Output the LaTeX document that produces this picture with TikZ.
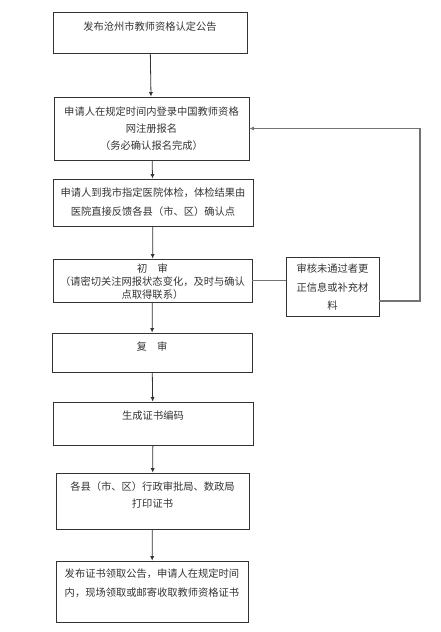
\documentclass[tikz,border=0pt]{standalone}
\usepackage{fontspec}
\setmainfont{Noto Sans CJK SC}
\usetikzlibrary{arrows.meta}
\usetikzlibrary{calc, positioning}

\tikzset{
  box/.style={draw=black!80, line width=0.6pt, rectangle, inner sep=0pt},
  txt/.style={text=black!80, font=\fontsize{7.7}{12.75}\selectfont, align=center, inner sep=0pt},
  arr/.style={black!80, line width=0.6pt, arrows={-Latex[length=1.2mm, width=1.1mm]}},
  link/.style={black!55, line width=0.8pt}
}

\begin{document}
\begin{tikzpicture}[x=0.75pt, y=-0.75pt]
          \useasboundingbox (0,0) rectangle (440,632);

          % boxes of the main column
          \node [box, minimum width=145.5pt, minimum height=30.75pt] (b1) at (150,32.5) {};
          \node [box, minimum width=146.25pt, minimum height=47.25pt] (b2) at (151.5,128.5) {};
          \node [box, minimum width=150pt, minimum height=35.25pt] (b3) at (153,202.5) {};
          \node [box, minimum width=149.25pt, minimum height=32.25pt] (b4) at (152.5,280.5) {};
          \node [box, minimum width=150pt, minimum height=29.25pt] (b6) at (152,352.5) {};
          \node [box, minimum width=150pt, minimum height=32.25pt] (b7) at (153,423.5) {};
          \node [box, minimum width=144.75pt, minimum height=42pt] (b8) at (152.5,501) {};
          \node [box, minimum width=144pt, minimum height=45.75pt] (b9) at (152,591.5) {};

          % side box
          \node [box, minimum width=69.75pt, minimum height=44.25pt] (b5) at (332.5,286.5) {};

          % texts
          \node [txt] (t1) at ($(b1.center)+(0,-5.5)$) {发布沧州市教师资格认定公告};
          \node [txt] (t2) at (b2.center) {申请人在规定时间内登录中国教师资格\\网注册报名\\（务必确认报名完成）};
          \node [txt, font=\fontsize{7.7}{14.25}\selectfont] (t3) at (b3.center) {申请人到我市指定医院体检，体检结果由\\医院直接反馈各县（市、区）确认点};
          \node [txt, font=\fontsize{7.7}{9.75}\selectfont] (t4) at ($(b4.center)+(0,1.5)$) {初\quad 审\\（请密切关注网报状态变化，及时与确认\\点取得联系）};
          \node [txt, font=\fontsize{7.7}{13.9}\selectfont] (t5) at ($(b5.center)+(0,1)$) {审核未通过者更\\正信息或补充材\\料};
          \node [txt] (t6) at ($(b6.center)+(0,-5.5)$) {复\quad 审};
          \node [txt] (t7) at ($(b7.center)+(0,-7.5)$) {生成证书编码};
          \node [txt] (t8) at ($(b8.center)+(0,-5.5)$) {各县（市、区）行政审批局、数政局\\打印证书};
          \node [txt, font=\fontsize{7.7}{14.25}\selectfont] (t9) at ($(b9.center)+(0,-8)$) {发布证书领取公告，申请人在规定时间\\内，现场领取或邮寄收取教师资格证书};

          % arrows down the column
          \draw [arr] (b1) -- (b2);
          \draw [arr] (b2) -- (b3);
          \draw [arr] (b3) -- (b4);
          \draw [arr] (b4) -- (b6);
          \draw [arr] (b6) -- (b7);
          \draw [arr] (b7) -- (b8);
          \draw [arr] (b8) -- (b9);

          % loop back for failed review
          \coordinate (fb) at (420,0);
          \draw [link] (b4.east) -- (b4.east -| b5.west);
          \draw [link, arrows={-Latex[length=1.2mm, width=1.1mm]}] ($(b5.east)+(0,14.5)$) -| (fb |- b2.east) -- (b2.east);
        \end{tikzpicture}
\end{document}
